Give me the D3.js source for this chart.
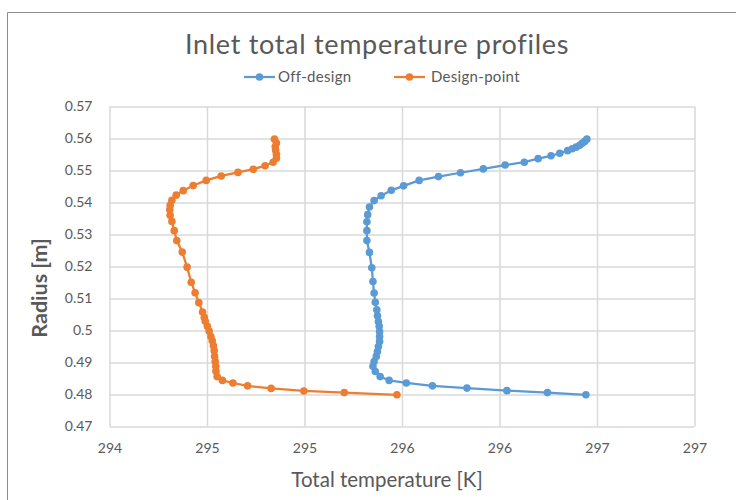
<!DOCTYPE html>
<html>
<head>
<meta charset="utf-8">
<script src="https://cdn.jsdelivr.net/npm/d3@7"></script>
<style>
  html, body { margin: 0; padding: 0; background: #fff; }
  svg { display: block; font-family: Lato, "Open Sans", sans-serif; }
</style>
</head>
<body>
<svg id="chart" width="736" height="500"></svg>
<script>
// Inlet total temperature profiles: radius vs total temperature
const offDesignT = [296.443, 296.246, 296.038, 295.833, 295.656, 295.522, 295.434, 295.388, 295.363, 295.351,
  295.357, 295.368, 295.374, 295.379, 295.385, 295.385, 295.385, 295.383, 295.379, 295.374,
  295.371, 295.363, 295.357, 295.351, 295.345, 295.333, 295.320, 295.320, 295.320, 295.324,
  295.333, 295.357, 295.393, 295.445, 295.508, 295.588, 295.687, 295.800, 295.917, 296.029,
  296.127, 296.198, 296.264, 296.309, 296.349, 296.373, 296.393, 296.411, 296.424, 296.437, 296.448];
const offDesignR = [0.4799, 0.4806, 0.4812, 0.4820, 0.4827, 0.4836, 0.4844, 0.4856, 0.4872, 0.4888,
  0.4903, 0.4919, 0.4934, 0.4950, 0.4966, 0.4981, 0.4997, 0.5013, 0.5028, 0.5046,
  0.5065, 0.5088, 0.5117, 0.5153, 0.5196, 0.5244, 0.5281, 0.5312, 0.5340, 0.5362,
  0.5386, 0.5406, 0.5421, 0.5438, 0.5452, 0.5469, 0.5481, 0.5493, 0.5505, 0.5517,
  0.5526, 0.5537, 0.5546, 0.5554, 0.5562, 0.5568, 0.5573, 0.5579, 0.5585, 0.5591, 0.5598];

const designT = [295.474, 295.204, 294.997, 294.829, 294.708, 294.633, 294.579, 294.552, 294.546, 294.545,
  294.542, 294.539, 294.537, 294.533, 294.527, 294.520, 294.511, 294.502, 294.491, 294.486,
  294.477, 294.458, 294.439, 294.419, 294.398, 294.373, 294.345, 294.332, 294.320, 294.311,
  294.309, 294.311, 294.320, 294.342, 294.378, 294.429, 294.496, 294.573, 294.659, 294.737,
  294.798, 294.839, 294.856, 294.856, 294.852, 294.850, 294.856, 294.846];
const designR = [0.4799, 0.4806, 0.4811, 0.4819, 0.4827, 0.4836, 0.4844, 0.4856, 0.4873, 0.4888,
  0.4903, 0.4919, 0.4937, 0.4952, 0.4968, 0.4981, 0.4998, 0.5013, 0.5029, 0.5041,
  0.5058, 0.5087, 0.5118, 0.5151, 0.5198, 0.5245, 0.5281, 0.5312, 0.5341, 0.5360,
  0.5377, 0.5391, 0.5407, 0.5423, 0.5437, 0.5453, 0.5469, 0.5483, 0.5494, 0.5504,
  0.5515, 0.5526, 0.5538, 0.5551, 0.5563, 0.5574, 0.5586, 0.5598];

const seriesNames = ["Off-design", "Design-point"];
const seriesColors = ["#5B9BD5", "#ED7D31"];

const xTicks = [294, 294.5, 295, 295.5, 296, 296.5, 297];
const xTickLabels = ["294", "295", "295", "296", "296", "297", "297"];
const yTicks = [0.47, 0.48, 0.49, 0.5, 0.51, 0.52, 0.53, 0.54, 0.55, 0.56, 0.57];
const yTickLabels = ["0.47", "0.48", "0.49", "0.5", "0.51", "0.52", "0.53", "0.54", "0.55", "0.56", "0.57"];

const series = [
  { name: seriesNames[0], color: seriesColors[0], pts: offDesignT.map((t, i) => [t, offDesignR[i]]) },
  { name: seriesNames[1], color: seriesColors[1], pts: designT.map((t, i) => [t, designR[i]]) }
];

const svg = d3.select("#chart");
const plot = { left: 109.5, right: 694.5, top: 106.5, bottom: 426.5 };
const textColor = "#595959";
const gridColor = "#d9d9d9";

const x = d3.scaleLinear().domain([294, 297]).range([plot.left, plot.right]);
const y = d3.scaleLinear().domain([0.47, 0.57]).range([plot.bottom, plot.top]);

// chart-area frame (top and left edges fall inside the view)
svg.append("path")
  .attr("d", `M7.5,${500}V12.5H736`)
  .attr("fill", "none").attr("stroke", "#8c8c8c").attr("stroke-width", 1);

// title
svg.append("text")
  .attr("x", 377).attr("y", 54)
  .attr("text-anchor", "middle")
  .attr("font-size", 27).attr("letter-spacing", 0.7).attr("fill", textColor)
  .text("Inlet total temperature profiles");

// gridlines
svg.append("g")
  .attr("transform", `translate(0,${plot.bottom})`)
  .call(d3.axisBottom(x).tickValues(xTicks).tickSize(-(plot.bottom - plot.top)).tickFormat(""))
  .call(g => g.select(".domain").remove())
  .call(g => g.selectAll("line").attr("stroke", gridColor).attr("stroke-width", 1.5));

svg.append("g")
  .attr("transform", `translate(${plot.left},0)`)
  .call(d3.axisLeft(y).tickValues(yTicks).tickSize(-(plot.right - plot.left)).tickFormat(""))
  .call(g => g.select(".domain").remove())
  .call(g => g.selectAll("line").attr("stroke", gridColor).attr("stroke-width", 1.5));

// tick labels
svg.append("g")
  .attr("transform", `translate(0,${plot.bottom})`)
  .call(d3.axisBottom(x).tickValues(xTicks).tickSize(0).tickPadding(17)
    .tickFormat((d, i) => xTickLabels[i]))
  .call(g => g.select(".domain").remove())
  .call(g => g.selectAll("text").attr("fill", textColor).attr("font-size", 14)
    .attr("font-family", "Lato, sans-serif"));

svg.append("g")
  .attr("transform", `translate(${plot.left},0)`)
  .call(d3.axisLeft(y).tickValues(yTicks).tickSize(0).tickPadding(17)
    .tickFormat((d, i) => yTickLabels[i]))
  .call(g => g.select(".domain").remove())
  .call(g => g.selectAll("text").attr("fill", textColor).attr("font-size", 14)
    .attr("font-family", "Lato, sans-serif"));

// axis titles
svg.append("text")
  .attr("x", 387).attr("y", 487)
  .attr("text-anchor", "middle")
  .attr("font-size", 20.5).attr("fill", textColor)
  .text("Total temperature [K]");

svg.append("text")
  .attr("transform", "translate(47,288) rotate(-90)")
  .attr("text-anchor", "middle")
  .attr("font-size", 21.5).attr("font-weight", "bold").attr("fill", textColor)
  .text("Radius [m]");

// series
const line = d3.line().x(d => x(d[0])).y(d => y(d[1]));
series.forEach(s => {
  const g = svg.append("g");
  g.append("path")
    .attr("d", line(s.pts))
    .attr("fill", "none").attr("stroke", s.color)
    .attr("stroke-width", 2.25).attr("stroke-linejoin", "round");
  g.selectAll("circle").data(s.pts).join("circle")
    .attr("cx", d => x(d[0])).attr("cy", d => y(d[1]))
    .attr("r", 3.8).attr("fill", s.color);
});

// legend
const legendItems = [
  { x0: 244, tx: 278 },
  { x0: 394, tx: 431 }
];
series.forEach((s, i) => {
  const li = legendItems[i];
  const g = svg.append("g");
  g.append("line")
    .attr("x1", li.x0).attr("x2", li.x0 + 31).attr("y1", 77).attr("y2", 77)
    .attr("stroke", s.color).attr("stroke-width", 2.25);
  g.append("circle").attr("cx", li.x0 + 15.5).attr("cy", 77).attr("r", 3.8).attr("fill", s.color);
  g.append("text")
    .attr("x", li.tx).attr("y", 82)
    .attr("font-size", 15).attr("letter-spacing", 0.3).attr("fill", textColor)
    .text(s.name);
});
</script>
</body>
</html>
